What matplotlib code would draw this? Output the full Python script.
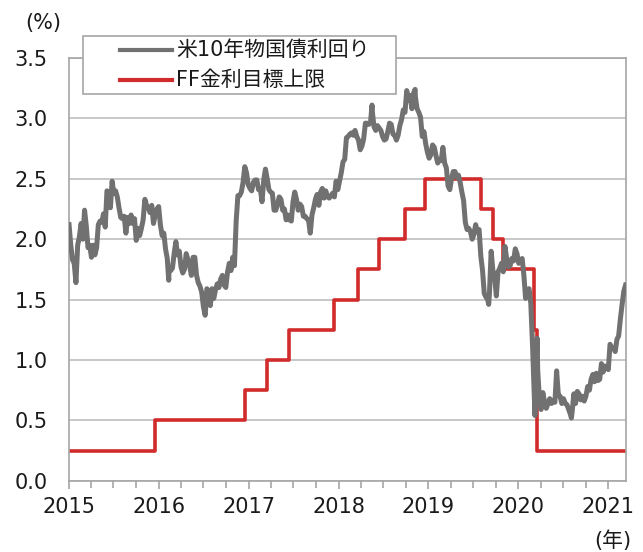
import numpy as np
import pandas as pd
import matplotlib
matplotlib.use("Agg")
import matplotlib.pyplot as plt
import matplotlib.dates as mdates
from matplotlib.ticker import FormatStrFormatter
from matplotlib.patches import Rectangle
from matplotlib.lines import Line2D

plt.rcParams['font.family'] = ['DejaVu Sans', 'Noto Sans CJK JP']

# 米10年物国債利回り (週次, 金曜日)
y2015 = [2.12, 1.95, 1.83, 1.80, 1.64, 1.95, 2.02, 2.13, 2.00, 2.24, 2.11, 1.93, 1.95,
         1.85, 1.95, 1.87, 1.93, 2.12, 2.15, 2.14, 2.21, 2.10, 2.40, 2.39, 2.26, 2.48,
         2.38, 2.40, 2.35, 2.26, 2.18, 2.17, 2.19, 2.05, 2.18, 2.13, 2.20, 2.13, 2.17,
         1.99, 2.09, 2.03, 2.09, 2.16, 2.33, 2.28, 2.26, 2.22, 2.28, 2.13, 2.20, 2.25]
y2016 = [2.27, 2.12, 2.03, 2.05, 1.92, 1.84, 1.74, 1.74, 1.76, 1.88, 1.98, 1.87, 1.90,
         1.77, 1.72, 1.75, 1.88, 1.83, 1.78, 1.70, 1.85, 1.85, 1.70, 1.64, 1.61, 1.56,
         1.44, 1.37, 1.59, 1.57, 1.45, 1.59, 1.51, 1.58, 1.63, 1.60, 1.67, 1.70, 1.62,
         1.60, 1.73, 1.80, 1.74, 1.85, 1.78, 2.15, 2.36, 2.36, 2.39, 2.47, 2.60, 2.55, 2.45]
y2017 = [2.42, 2.40, 2.47, 2.49, 2.49, 2.41, 2.42, 2.31, 2.49, 2.58, 2.50, 2.41, 2.39,
         2.38, 2.24, 2.24, 2.29, 2.35, 2.33, 2.24, 2.25, 2.16, 2.20, 2.16, 2.15, 2.31,
         2.39, 2.33, 2.24, 2.29, 2.27, 2.19, 2.19, 2.17, 2.16, 2.05, 2.20, 2.26, 2.33,
         2.37, 2.28, 2.39, 2.42, 2.34, 2.40, 2.35, 2.34, 2.36, 2.38, 2.35, 2.48, 2.41]
y2018 = [2.48, 2.55, 2.64, 2.66, 2.84, 2.85, 2.87, 2.88, 2.86, 2.90, 2.85, 2.82, 2.74,
         2.77, 2.83, 2.96, 2.96, 2.95, 2.97, 3.06, 2.93, 2.90, 2.94, 2.92, 2.90, 2.85,
         2.82, 2.83, 2.89, 2.96, 2.95, 2.87, 2.86, 2.82, 2.86, 2.94, 2.99, 3.07, 3.05,
         3.23, 3.15, 3.19, 3.08, 3.21, 3.18, 3.08, 3.05, 3.01, 2.85, 2.89, 2.79, 2.72]
y2019 = [2.67, 2.70, 2.78, 2.76, 2.69, 2.63, 2.66, 2.65, 2.76, 2.63, 2.59, 2.44, 2.41,
         2.50, 2.56, 2.56, 2.51, 2.53, 2.47, 2.39, 2.32, 2.14, 2.08, 2.09, 2.06, 2.00,
         2.04, 2.12, 2.06, 2.08, 1.86, 1.74, 1.55, 1.52, 1.50, 1.55, 1.90, 1.74, 1.69,
         1.53, 1.73, 1.76, 1.80, 1.73, 1.94, 1.84, 1.77, 1.78, 1.84, 1.82, 1.92, 1.88]
y2020 = [1.80, 1.82, 1.84, 1.70, 1.51, 1.58, 1.59, 1.47, 1.13, 0.71, 0.94, 0.92, 0.68,
         0.59, 0.73, 0.65, 0.60, 0.64, 0.68, 0.64, 0.66, 0.65, 0.91, 0.71, 0.70, 0.64,
         0.68, 0.64, 0.63, 0.59, 0.55, 0.57, 0.72, 0.64, 0.74, 0.72, 0.67, 0.70, 0.66,
         0.70, 0.78, 0.75, 0.84, 0.88, 0.82, 0.89, 0.83, 0.84, 0.97, 0.90, 0.95, 0.94]
y2021 = [0.92, 1.13, 1.10, 1.10, 1.07, 1.17, 1.20, 1.34, 1.46, 1.57, 1.62]
yearly = {2015: y2015, 2016: y2016, 2017: y2017, 2018: y2018,
          2019: y2019, 2020: y2020, 2021: y2021}

# 週の間の高値・安値
extra_dates = ['2016-02-11', '2018-05-17', '2018-11-08', '2019-09-03',
               '2020-03-09', '2020-03-18', '2020-08-04']
extra_vals = [1.66, 3.11, 3.24, 1.46, 0.54, 1.18, 0.52]

# FF金利目標上限
ff_dates = ['2015-01-01', '2015-12-17', '2016-12-15', '2017-03-16', '2017-06-15',
            '2017-12-14', '2018-03-22', '2018-06-14', '2018-09-27', '2018-12-20',
            '2019-08-01', '2019-09-19', '2019-10-31', '2020-03-04', '2020-03-16',
            '2021-03-15']
ff_upper = [0.25, 0.50, 0.75, 1.00, 1.25, 1.50, 1.75, 2.00, 2.25, 2.50,
            2.25, 2.00, 1.75, 1.25, 0.25, 0.25]

labels = ['米10年物国債利回り', 'FF金利目標上限']
colors = ['#717171', '#d22b2b']

parts = []
for yr, vals in yearly.items():
    d = pd.date_range(f'{yr}-01-01', periods=len(vals), freq='W-FRI')
    parts.append(pd.Series(vals, index=d))
parts.append(pd.Series(extra_vals, index=pd.to_datetime(extra_dates)))
yld = pd.concat(parts).sort_index()

W, H = 643, 552
fig = plt.figure(figsize=(W / 100, H / 100), dpi=100)
ax = fig.add_axes([0.107, 0.129, 0.867, 0.766])

ax.plot(yld.index, yld.values, color=colors[0], lw=3.6, zorder=3)
ax.plot(pd.to_datetime(ff_dates), ff_upper, color=colors[1], lw=2.6,
        drawstyle='steps-post', zorder=2)

ax.set_xlim(pd.Timestamp('2015-01-01'), pd.Timestamp('2021-03-15'))
ax.set_ylim(0, 3.5)
ax.set_yticks(np.arange(0, 3.51, 0.5))
ax.yaxis.set_major_formatter(FormatStrFormatter('%.1f'))
ax.grid(axis='y', color='#bfbfbf', lw=1.2)
ax.set_axisbelow(True)

ax.xaxis.set_major_locator(mdates.YearLocator())
ax.xaxis.set_major_formatter(mdates.DateFormatter('%Y'))
ax.xaxis.set_minor_locator(mdates.MonthLocator(bymonth=[4, 7, 10]))
ax.tick_params(axis='x', which='major', length=6, width=1.2, color='#a6a6a6',
               labelsize=15, pad=6, labelcolor='#1a1a1a')
ax.tick_params(axis='x', which='minor', length=5, width=1.2, color='#a6a6a6')
ax.tick_params(axis='y', length=0, labelsize=15, pad=15, labelcolor='#1a1a1a')
for s in ax.spines.values():
    s.set_color('#a6a6a6')
    s.set_linewidth(1.2)

fig.text(43 / W, 1 - 23 / H, '(%)', fontsize=15, ha='center', va='center',
         color='#1a1a1a')
fig.text(613 / W, 1 - 541 / H, '(年)', fontsize=15, ha='center', va='center',
         color='#1a1a1a')

# 凡例 (枠付き)
fig.add_artist(Rectangle((83 / W, 1 - 94 / H), (396 - 83) / W, (94 - 36) / H,
                         transform=fig.transFigure, facecolor='white',
                         edgecolor='#a6a6a6', lw=1.2, zorder=5))
for i, (lab, c) in enumerate(zip(labels, colors)):
    yy = 1 - (50 + 30 * i) / H
    fig.add_artist(Line2D([120 / W, 172 / W], [yy, yy], transform=fig.transFigure,
                          color=c, lw=3, zorder=6))
    fig.text(176 / W, yy, lab, fontsize=15, ha='left', va='center',
             color='#1a1a1a', zorder=6)

fig.savefig('out.png', dpi=100)
